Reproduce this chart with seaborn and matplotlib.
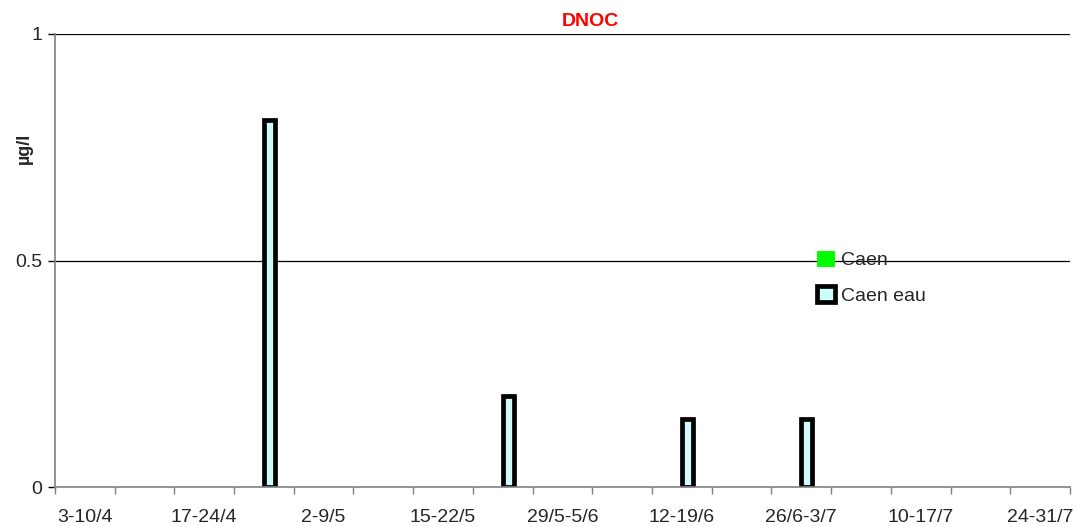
import seaborn as sns
import numpy as np
import matplotlib.pyplot as plt
import pandas as pd
from matplotlib.patches import Patch

# weekly sampling periods
weeks = ['3-10/4', '10-17/4', '17-24/4', '24/4-2/5', '2-9/5', '9-15/5', '15-22/5',
         '22-29/5', '29/5-5/6', '5-12/6', '12-19/6', '19-26/6', '26/6-3/7',
         '3-10/7', '10-17/7', '17-24/7', '24-31/7']
caen = [0, 0, 0, 0, 0, 0, 0, 0, 0, 0, 0, 0, 0, 0, 0, 0, 0]
caen_eau = [0, 0, 0, 0.81, 0, 0, 0, 0.2, 0, 0, 0.15, 0, 0.15, 0, 0, 0, 0]
series = ['Caen', 'Caen eau']
colors = {'Caen': '#00ff00', 'Caen eau': '#ccffff'}

df = pd.DataFrame({
    'week': weeks * 2,
    'value': caen + caen_eau,
    'site': ['Caen'] * len(weeks) + ['Caen eau'] * len(weeks),
})

sns.set_style('white')
plt.rcParams['font.family'] = ['Liberation Sans', 'DejaVu Sans']

fig = plt.figure(figsize=(10.77, 5.26), dpi=100)
ax = fig.add_axes([0.051, 0.0741, 0.9425, 0.8613])

sns.barplot(data=df, x='week', y='value', hue='site', order=weeks,
            hue_order=series, palette=colors, width=0.36, dodge=True,
            legend=False, ax=ax)

for p in ax.containers[0]:
    p.set_edgecolor('none')
for p in ax.containers[1]:
    if p.get_height() > 0:
        p.set_edgecolor('black')
        p.set_linewidth(3.4)
    else:
        p.set_edgecolor('none')

ax.set_xlim(-0.5, len(weeks) - 0.5)
ax.set_ylim(0, 1)
ax.set_yticks([0, 0.5, 1])
ax.set_yticklabels(['0', '0.5', '1'], fontsize=14)
for y in [0.5, 1]:
    ax.axhline(y, color='black', lw=0.9, zorder=0)

ax.set_xticks(np.arange(0, len(weeks), 2))
ax.set_xticklabels(weeks[::2], fontsize=14)
ax.set_xticks(np.arange(-0.5, len(weeks), 1), minor=True)
ax.tick_params(axis='x', which='major', length=0, pad=16)
ax.tick_params(axis='x', which='minor', length=5, width=1, color='#808080', direction='out', bottom=True)
ax.tick_params(axis='y', length=5, width=1, color='black', direction='out', left=True, pad=4)

for s in ['top', 'right']:
    ax.spines[s].set_visible(False)
for s in ['left', 'bottom']:
    ax.spines[s].set_color('#808080')
    ax.spines[s].set_linewidth(1.2)

ax.set_xlabel('')
ax.set_ylabel('')
fig.text(590 / 1077, 1 - 21 / 526, 'DNOC', color='red', fontsize=14,
         fontweight='bold', ha='center', va='center')
fig.text(24 / 1077, 1 - 148 / 526, 'µg/l', fontsize=13, fontweight='bold',
         rotation=90, ha='center', va='center')

handles = [Patch(facecolor='#00ff00', edgecolor='none'),
           Patch(facecolor='#ccffff', edgecolor='black', linewidth=3.4)]
ax.legend(handles, series, loc='upper left', bbox_to_anchor=(0.751, 0.522),
          frameon=False, fontsize=14, handlelength=0.9, handleheight=0.9,
          handletextpad=0.3, labelspacing=0.85, borderpad=0, borderaxespad=0)

fig.savefig('out.png', dpi=100)
